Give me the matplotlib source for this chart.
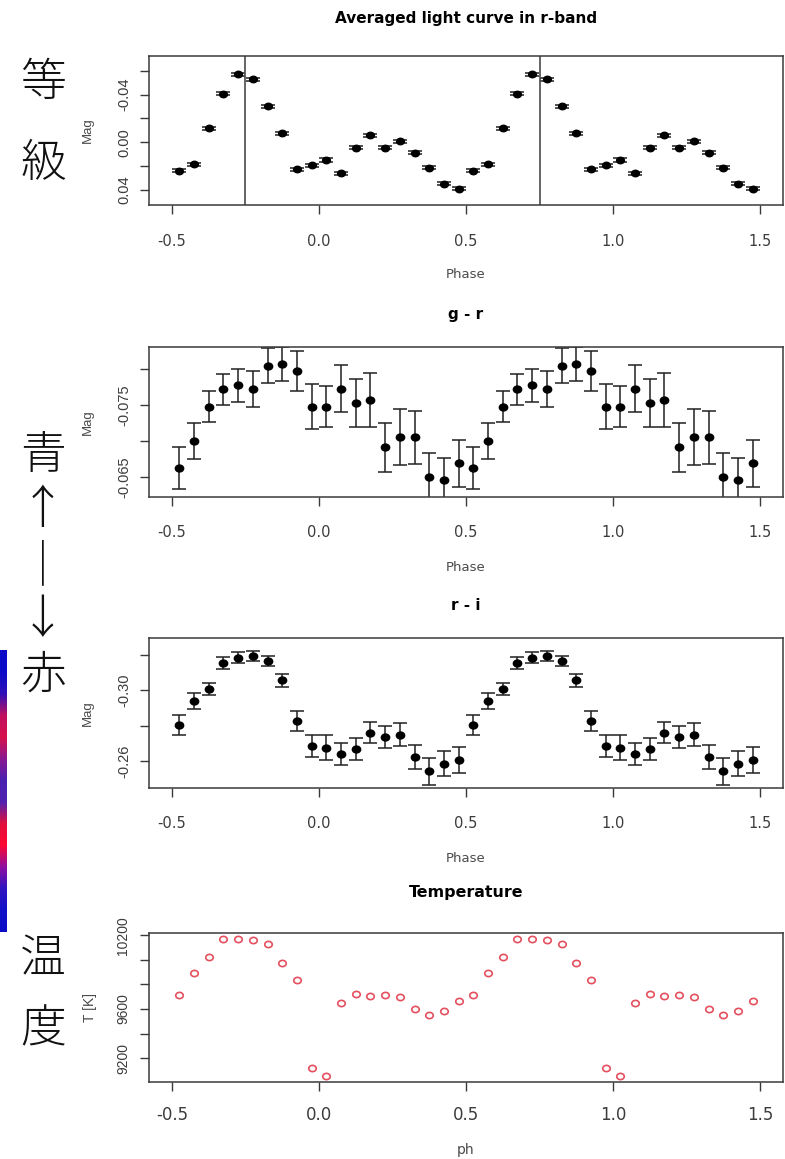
import numpy as np
import matplotlib
matplotlib.use("Agg")
import matplotlib.pyplot as plt
from matplotlib.colors import LinearSegmentedColormap
from matplotlib.path import Path
from matplotlib.transforms import Affine2D

# ---------------------------------------------------------------
# Phase-folded data: 20 bins per cycle, shown over two cycles
# ---------------------------------------------------------------
phase_bins = [-0.475, -0.425, -0.375, -0.325, -0.275, -0.225, -0.175,
              -0.125, -0.075, -0.025, 0.025, 0.075, 0.125, 0.175,
              0.225, 0.275, 0.325, 0.375, 0.425, 0.475]

# averaged r-band light curve (relative magnitude) and errors
r_mag = [0.0237, 0.0183, -0.0119, -0.0408, -0.0569, -0.0527, -0.0302,
         -0.0077, 0.0225, 0.0192, 0.0148, 0.0261, 0.0045, -0.0058,
         0.0045, -0.0008, 0.0087, 0.0214, 0.0348, 0.0387]
r_err = [0.0013, 0.0013, 0.0012, 0.0012, 0.0012, 0.0012, 0.0012,
         0.0012, 0.0013, 0.0013, 0.0013, 0.0013, 0.0013, 0.0013,
         0.0013, 0.0013, 0.0013, 0.0013, 0.0013, 0.0013]

# g - r colour index
gr_mag = [-0.0662, -0.0700, -0.0748, -0.0772, -0.0778, -0.0772, -0.0805,
          -0.0807, -0.0798, -0.0748, -0.0748, -0.0773, -0.0753, -0.0757,
          -0.0691, -0.0705, -0.0705, -0.0650, -0.0646, -0.0669]
gr_err = [0.0029, 0.0025, 0.0022, 0.0022, 0.0023, 0.0025, 0.0024,
          0.0024, 0.0028, 0.0031, 0.0028, 0.0033, 0.0034, 0.0038,
          0.0034, 0.0039, 0.0037, 0.0033, 0.0031, 0.0033]

# r - i colour index
ri_mag = [-0.2803, -0.2940, -0.3009, -0.3154, -0.3182, -0.3193, -0.3165,
          -0.3056, -0.2827, -0.2685, -0.2677, -0.2643, -0.2671, -0.2762,
          -0.2737, -0.2750, -0.2624, -0.2544, -0.2587, -0.2610]
ri_err = [0.0056, 0.0047, 0.0033, 0.0035, 0.0031, 0.0028, 0.0028,
          0.0036, 0.0054, 0.0063, 0.0070, 0.0063, 0.0061, 0.0061,
          0.0064, 0.0063, 0.0069, 0.0077, 0.0069, 0.0073]

# colour temperature [K]
temp_k = [9713, 9892, 10026, 10172, 10172, 10159, 10126, 9972, 9835,
          9122, 9054, 9649, 9721, 9708, 9713, 9700, 9600, 9551, 9586, 9662]

x_ticks = [-0.5, 0.0, 0.5, 1.0, 1.5]
x_ticklabels = ["-0.5", "0.0", "0.5", "1.0", "1.5"]
marker_lines = [-0.25, 0.75]

# vertical colour strip (top -> bottom)
strip_colors = ["#0a0ac8", "#0a0ac8", "#3010b8", "#c01060", "#d8104a",
                "#8a1890", "#4a20b0", "#5020b0", "#e0103c", "#ff0830",
                "#9010a0", "#3014c0", "#1010c8", "#0c0cc8"]

# ---------------------------------------------------------------
W, H, DPI = 785, 1159, 100
WIDE = ["DejaVu Sans"]                     # horizontal text
NARROW = ["Liberation Sans", "DejaVu Sans"]  # rotated axis text
CJK = ["Noto Sans CJK JP", "DejaVu Sans"]
plt.rcParams["font.family"] = WIDE

fig = plt.figure(figsize=(W / DPI, H / DPI), dpi=DPI)
fig.patch.set_facecolor("white")

# slightly wide round marker
ELLIPSE = Path.unit_circle().transformed(Affine2D().scale(1.2, 1.0))


def px_axes(left, top, right, bottom):
    return fig.add_axes([left / W, 1 - bottom / H,
                         (right - left) / W, (bottom - top) / H])


def two_cycles(values):
    return list(values) + list(values)


phase = list(phase_bins) + [p + 1.0 for p in phase_bins]
XLIM = (-0.578, 1.578)
FRAME = "#3a3a3a"


def style(ax, box, yticks, ylabels, ylim, xlab, ylab, fs_x, fs_y, fs_lab,
          xpad, ypad, xlab_px, ylab_px):
    left, top, right, bottom = box
    ax.set_xlim(*XLIM)
    ax.set_ylim(*ylim)
    for s in ax.spines.values():
        s.set_color(FRAME)
        s.set_linewidth(1.1)
    ax.set_xticks(x_ticks)
    ax.set_xticklabels(x_ticklabels, fontsize=fs_x, family=WIDE)
    ax.set_yticks(yticks)
    ax.set_yticklabels(ylabels, rotation=90, va="center", fontsize=fs_y,
                       family=NARROW)
    ax.tick_params(axis="both", direction="out", length=6.5, width=1.0,
                   color=FRAME, labelcolor="#3c3c3c")
    ax.tick_params(axis="x", pad=xpad)
    ax.tick_params(axis="y", pad=ypad)
    ax.set_xlabel(xlab, fontsize=fs_lab, color="#4a4a4a", family=WIDE)
    ax.xaxis.label.set_verticalalignment("center")
    ax.xaxis.set_label_coords(0.5, (bottom - xlab_px) / (bottom - top))
    ax.set_ylabel(ylab, fontsize=fs_lab, color="#4a4a4a", family=NARROW)
    ax.yaxis.label.set_rotation_mode("default")
    ax.yaxis.label.set_verticalalignment("center")
    ax.yaxis.label.set_horizontalalignment("center")
    ax.yaxis.set_label_coords((ylab_px - left) / (right - left), 0.5)


def err_plot(ax, vals, errs, ms):
    ax.errorbar(phase, two_cycles(vals), yerr=two_cycles(errs),
                fmt="none", ecolor="#202020", elinewidth=1.1,
                capsize=4.7, capthick=1.1)
    ax.plot(phase, two_cycles(vals), linestyle="none", marker=ELLIPSE,
            color="black", ms=ms)


# ---- panel 1: averaged light curve ----
box1 = (149, 56, 783, 205)
ax1 = px_axes(*box1)
err_plot(ax1, r_mag, r_err, ms=5.6)
for xv in marker_lines:
    ax1.axvline(xv, color="#4a4a4a", lw=1.2)
style(ax1, box1, [-0.06, -0.04, -0.02, 0.0, 0.02, 0.04],
      ["", "-0.04", "", "0.00", "", "0.04"], (0.0525, -0.0723),
      "Phase", "Mag", 10.5, 10.5, 9.5, 14.2, 6.5, 275, 88)

# ---- panel 2: g - r ----
box2 = (149, 347, 783, 497)
ax2 = px_axes(*box2)
err_plot(ax2, gr_mag, gr_err, ms=6.0)
style(ax2, box2, [-0.080, -0.075, -0.070, -0.065],
      ["", "-0.075", "", "-0.065"], (-0.0622, -0.0831),
      "Phase", "Mag", 10.5, 10.5, 9.5, 13.6, 6.5, 567, 88)

# ---- panel 3: r - i ----
box3 = (149, 638, 783, 788)
ax3 = px_axes(*box3)
err_plot(ax3, ri_mag, ri_err, ms=6.0)
style(ax3, box3, [-0.32, -0.30, -0.28, -0.26],
      ["", "-0.30", "", "-0.26"], (-0.245, -0.3294),
      "Phase", "Mag", 10.5, 10.5, 9.5, 13.6, 6.5, 858, 88)

# ---- panel 4: temperature ----
box4 = (149, 933, 783, 1082)
ax4 = px_axes(*box4)
ax4.plot(phase, two_cycles(temp_k), linestyle="none", marker=ELLIPSE,
         mfc="none", mec="#e4505e", mew=1.2, ms=5.4)
style(ax4, box4, [9200, 9400, 9600, 9800, 10000, 10200],
      ["9200", "", "9600", "", "", "10200"], (9006, 10219),
      "ph", "T [K]", 12, 10, 10, 11, 7, 1150, 90)

# ---- panel titles ----
titles = [("Averaged light curve in r-band", 18, 11),
          ("g - r", 314, 11),
          ("r - i", 606, 11),
          ("Temperature", 893, 11.4)]
for text, ypx, fs in titles:
    fig.text(466 / W, 1 - ypx / H, text, ha="center", va="center",
             fontsize=fs, fontweight="bold", color="black")

# ---- Japanese side labels ----
JP = dict(ha="center", va="center", fontsize=33, family=CJK,
          weight="light", color="#111111")
fig.text(43 / W, 1 - 83 / H, "等", **JP)
fig.text(43 / W, 1 - 164 / H, "級", **JP)
fig.text(43 / W, 1 - 566 / H, "青\n↑\n｜\n↓\n赤",
         multialignment="center", linespacing=1.20, **JP)
fig.text(43 / W, 1 - 960 / H, "温", **JP)
fig.text(43 / W, 1 - 1030 / H, "度", **JP)

# ---- colour strip on the left edge ----
strip_ax = px_axes(0, 650, 7, 932)
cmap = LinearSegmentedColormap.from_list("strip", strip_colors)
strip_ax.imshow(np.linspace(0, 1, 256).reshape(-1, 1), aspect="auto",
                cmap=cmap, interpolation="bilinear")
strip_ax.set_axis_off()

fig.savefig("out.png", dpi=DPI, facecolor="white")
